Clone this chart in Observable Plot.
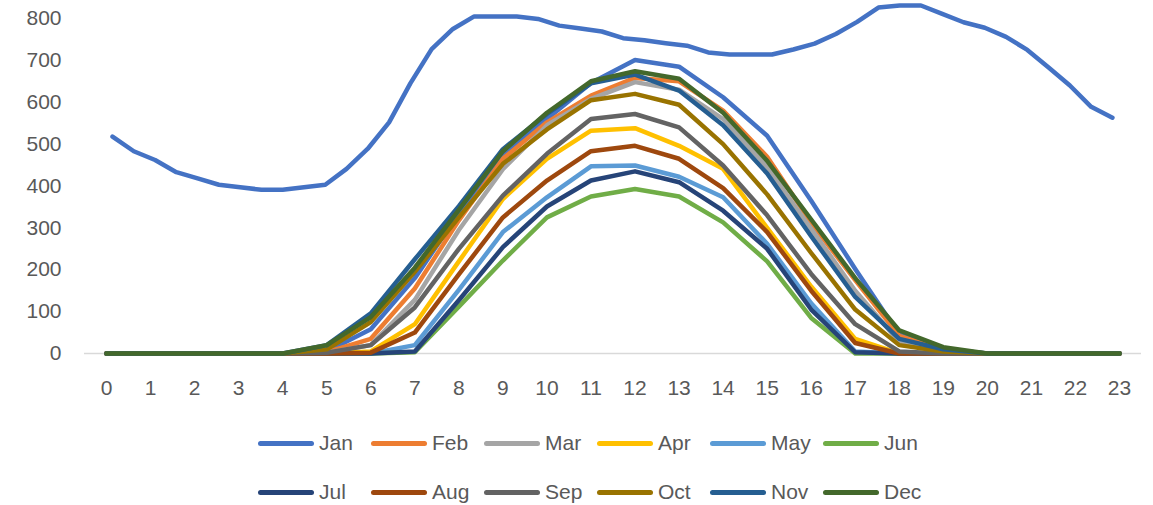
<!DOCTYPE html>
<html>
<head>
<meta charset="utf-8">
<script src="https://cdn.jsdelivr.net/npm/d3@7"></script>
<script src="https://cdn.jsdelivr.net/npm/@observablehq/plot@0.6"></script>
<style>
  body { margin: 0; background: #fff; }
  #chart { position: relative; width: 1153px; height: 505px; font-family: "Liberation Sans", Arial, sans-serif; }
  #legend { position: absolute; left: 0; top: 0; width: 1153px; height: 505px; pointer-events: none; }
  .item { position: absolute; display: flex; align-items: center; font-size: 21px; color: #595959; transform: translateY(-50%); }
  .sw { width: 56px; height: 5px; border-radius: 3px; margin-right: 5px; }
</style>
</head>
<body>
<div id="chart"></div>
<script>
// Hour of day (category axis)
const hours = [0, 1, 2, 3, 4, 5, 6, 7, 8, 9, 10, 11, 12, 13, 14, 15, 16, 17, 18, 19, 20, 21, 22, 23];
const yTicks = [0, 100, 200, 300, 400, 500, 600, 700, 800];

const months = ["Jan", "Feb", "Mar", "Apr", "May", "Jun", "Jul", "Aug", "Sep", "Oct", "Nov", "Dec"];
const monthColors = ["#4472C4", "#ED7D31", "#A5A5A5", "#FFC000", "#5B9BD5", "#70AD47",
                     "#264478", "#9E480E", "#636363", "#997300", "#255E91", "#43682B"];

// Average hourly generation per month
const jan = [0, 0, 0, 0, 0, 5, 58, 180, 335, 473, 560, 646, 701, 685, 612, 520, 365, 202, 45, 10, 0, 0, 0, 0];
const feb = [0, 0, 0, 0, 0, 3, 35, 155, 318, 465, 552, 616, 658, 650, 580, 470, 312, 175, 42, 8, 0, 0, 0, 0];
const mar = [0, 0, 0, 0, 0, 2, 20, 128, 295, 440, 545, 608, 648, 630, 560, 445, 298, 150, 28, 5, 0, 0, 0, 0];
const apr = [0, 0, 0, 0, 0, 0, 5, 70, 220, 369, 465, 532, 538, 496, 441, 300, 160, 35, 0, 0, 0, 0, 0, 0];
const may = [0, 0, 0, 0, 0, 0, 0, 20, 152, 290, 373, 447, 449, 422, 373, 262, 120, 5, 0, 0, 0, 0, 0, 0];
const jun = [0, 0, 0, 0, 0, 0, 0, 3, 112, 222, 325, 375, 393, 375, 313, 220, 85, 0, 0, 0, 0, 0, 0, 0];
const jul = [0, 0, 0, 0, 0, 0, 0, 5, 127, 254, 351, 413, 435, 409, 341, 250, 105, 3, 0, 0, 0, 0, 0, 0];
const aug = [0, 0, 0, 0, 0, 0, 2, 50, 189, 325, 413, 483, 496, 465, 395, 290, 150, 25, 0, 0, 0, 0, 0, 0];
const sep = [0, 0, 0, 0, 0, 2, 20, 110, 250, 377, 477, 560, 572, 540, 449, 330, 190, 70, 5, 0, 0, 0, 0, 0];
const oct = [0, 0, 0, 0, 0, 10, 75, 195, 325, 453, 535, 605, 620, 594, 500, 380, 240, 105, 20, 5, 0, 0, 0, 0];
const nov = [0, 0, 0, 0, 0, 20, 96, 225, 352, 488, 572, 645, 666, 628, 545, 430, 280, 135, 35, 10, 0, 0, 0, 0];
const dec = [0, 0, 0, 0, 0, 20, 87, 205, 343, 483, 575, 650, 674, 656, 575, 460, 320, 180, 55, 15, 0, 0, 0, 0];
const monthSeries = [jan, feb, mar, apr, may, jun, jul, aug, sep, oct, nov, dec];

// Half-hourly demand profile (48 readings), plotted on its own category scale
const loadValues = [518, 483, 462, 433, 418, 403, 397, 391, 391, 397, 403, 441,
                    489, 552, 645, 727, 775, 805, 805, 805, 799, 783, 776, 769,
                    753, 748, 741, 735, 719, 714, 714, 714, 726, 740, 763, 792,
                    826, 831, 831, 811, 791, 778, 756, 725, 683, 640, 589, 563];
const loadColor = "#4472C4";

// Secondary category scale: places the 48 readings along the hour axis
const loadPos = d3.scalePoint().domain(d3.range(loadValues.length)).range([0.136, 22.84]);
const loadRows = loadValues.map((v, i) => ({pos: loadPos(i), value: v}));

const lineStyle = {strokeWidth: 4.5, strokeLinejoin: "round", strokeLinecap: "round"};

const monthMarks = months.map((m, i) =>
  Plot.line(hours.map((h, j) => ({hour: h, value: monthSeries[i][j]})),
    {x: "hour", y: "value", stroke: monthColors[i], ...lineStyle})
);

const chart = Plot.plot({
  width: 1153,
  height: 400,
  marginLeft: 84,
  marginRight: 12,
  marginTop: 18,
  marginBottom: 47,
  style: {fontFamily: "'Liberation Sans', Arial, sans-serif", fontSize: "21px", color: "#595959", background: "#fff"},
  x: {domain: [-0.5, 23.5]},
  y: {domain: [0, 800]},
  marks: [
    Plot.ruleY([0], {stroke: "#D9D9D9", strokeWidth: 1.5}),
    ...monthMarks,
    Plot.line(loadRows, {x: "pos", y: "value", stroke: loadColor, ...lineStyle}),
    Plot.axisX(hours, {tickSize: 0, tickPadding: 27, tickFormat: d => String(d), label: null, fill: "#595959"}),
    Plot.axisY(yTicks, {tickSize: 0, tickPadding: 23, label: null, fill: "#595959"})
  ]
});

const root = document.getElementById("chart");
root.appendChild(chart);

// Legend: two rows of six entries below the plot
const legend = document.createElement("div");
legend.id = "legend";
months.forEach((m, i) => {
  const col = i % 6, row = Math.floor(i / 6);
  const item = document.createElement("div");
  item.className = "item";
  item.style.left = (258 + col * 113) + "px";
  item.style.top = (443 + row * 49) + "px";
  const sw = document.createElement("span");
  sw.className = "sw";
  sw.style.background = monthColors[i];
  const label = document.createElement("span");
  label.textContent = m;
  item.appendChild(sw);
  item.appendChild(label);
  legend.appendChild(item);
});
root.appendChild(legend);
</script>
</body>
</html>
